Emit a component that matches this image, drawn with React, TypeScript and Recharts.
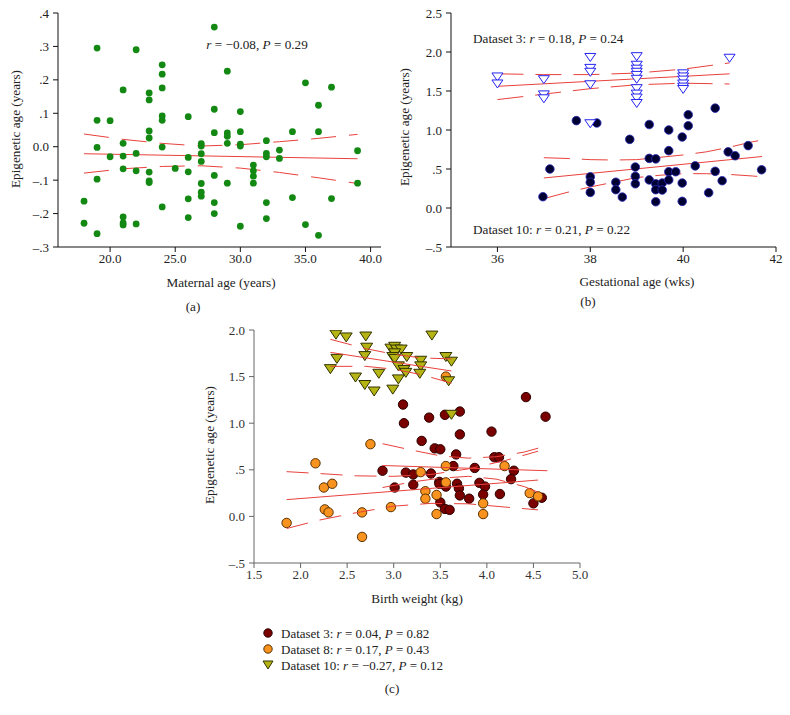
import React from "react";
import { ScatterChart, Scatter, XAxis, YAxis } from "recharts";

type Pt = [number, number];

const FONT = '"Liberation Serif", "DejaVu Serif", serif';
const RED = "#e8413c";

// (a) maternal age vs epigenetic age
const maternalAgePoints: Pt[] = [
  [18, -0.163], [18, -0.229],
  [19, 0.295], [19, 0.079], [19, -0.002], [19, -0.097], [19, -0.26],
  [20, 0.078], [20, -0.03],
  [21, 0.17], [21, 0.01], [21, -0.028], [21, -0.066], [21, -0.21], [21, -0.228], [21, -0.234],
  [22, 0.29], [22, -0.02], [22, -0.072], [22, -0.231],
  [23, 0.161], [23, 0.14], [23, 0.047], [23, 0.026], [23, -0.076], [23, -0.102], [23, -0.107],
  [24, 0.245], [24, 0.217], [24, 0.176], [24, 0.092], [24, 0.079], [24, -0.001], [24, -0.18],
  [25, -0.065],
  [26, 0.09], [26, -0.032], [26, -0.075], [26, -0.156], [26, -0.212],
  [27, 0.009], [27, 0.002], [27, -0.021], [27, -0.044], [27, -0.11], [27, -0.136], [27, -0.148],
  [28, 0.358], [28, 0.112], [28, 0.042], [28, -0.086], [28, -0.167], [28, -0.2],
  [29, 0.226], [29, 0.041], [29, 0.031], [29, 0.01], [29, -0.109],
  [30, 0.105], [30, 0.045], [30, 0.008], [30, 0.002], [30, -0.238],
  [31, -0.055], [31, -0.072], [31, -0.088], [31, -0.109],
  [32, 0.018], [32, -0.02], [32, -0.03], [32, -0.167], [32, -0.215],
  [33, -0.01], [33, -0.035],
  [34, 0.045], [34, -0.152],
  [35, 0.191], [35, -0.233],
  [36, 0.124], [36, 0.045], [36, -0.265],
  [37, 0.178], [37, -0.155],
  [39, -0.012], [39, -0.109],
];
const maternalFit: Pt[] = [[18, -0.021], [39, -0.036]];
const maternalUpper: Pt[] = [[18, 0.038], [21, 0.022], [24, 0.01], [27, 0.002], [30, 0.006], [33, 0.015], [36, 0.025], [39, 0.037]];
const maternalLower: Pt[] = [[18, -0.079], [21, -0.066], [24, -0.059], [27, -0.057], [30, -0.064], [33, -0.077], [36, -0.093], [39, -0.11]];

// (b) gestational age
const gestDataset3: Pt[] = [
  [36, 1.68], [36, 1.59], [37, 1.645], [37, 1.45], [37, 1.4],
  [38, 1.93], [38, 1.79], [38, 1.74], [38, 1.58], [38, 1.08],
  [39, 1.94], [39, 1.83], [39, 1.78], [39, 1.74], [39, 1.7], [39, 1.65], [39, 1.53], [39, 1.46], [39, 1.41], [39, 1.34],
  [40, 1.72], [40, 1.68], [40, 1.64], [40, 1.59], [40, 1.55], [40, 1.52],
  [41, 1.92],
];
const gestDataset10: Pt[] = [
  [36.98, 0.145], [37.13, 0.5], [37.7, 1.12], [38.14, 1.09], [38, 0.4], [38, 0.33], [38, 0.2],
  [38.55, 0.33], [38.55, 0.235], [38.69, 0.14], [38.85, 0.88], [38.97, 0.525], [38.97, 0.405], [38.97, 0.31],
  [39.27, 1.07], [39.27, 0.636], [39.27, 0.36], [39.41, 0.63], [39.41, 0.31], [39.41, 0.235], [39.41, 0.08],
  [39.55, 0.32], [39.55, 0.23], [39.69, 1.0], [39.69, 0.735], [39.69, 0.465], [39.69, 0.36], [39.84, 0.465],
  [39.98, 0.91], [39.98, 0.32], [39.98, 0.085], [40.11, 1.196], [40.11, 1.055], [40.26, 0.54], [40.55, 0.196],
  [40.69, 0.47], [40.69, 1.28], [40.84, 0.35], [40.97, 0.72], [41.12, 0.67], [41.4, 0.8], [41.69, 0.49],
];
const gest3Fit: Pt[] = [[36, 1.56], [41, 1.72]];
const gest3Upper: Pt[] = [[36, 1.72], [37, 1.71], [38, 1.71], [39, 1.73], [40, 1.78], [41, 1.86]];
const gest3Lower: Pt[] = [[36, 1.39], [37, 1.46], [38, 1.53], [39, 1.58], [40, 1.6], [41, 1.59]];
const gest10Fit: Pt[] = [[37, 0.385], [41.7, 0.66]];
const gest10Upper: Pt[] = [[37, 0.645], [37.5, 0.635], [38, 0.62], [38.5, 0.615], [39, 0.62], [39.5, 0.65], [40, 0.68], [40.5, 0.72], [41, 0.78], [41.5, 0.85], [41.7, 0.87]];
const gest10Lower: Pt[] = [[37, 0.12], [37.5, 0.2], [38, 0.27], [38.5, 0.33], [39, 0.39], [39.5, 0.42], [40, 0.44], [40.5, 0.44], [41, 0.43], [41.5, 0.41], [41.7, 0.4]];

// (c) birth weight
const bwDataset3: Pt[] = [
  [3.1, 1.2], [3.11, 1.0], [3.38, 1.06], [3.55, 1.09], [3.71, 1.125], [4.42, 1.28], [4.63, 1.07],
  [3.71, 0.88], [4.05, 0.91], [3.3, 0.81], [3.44, 0.73], [3.5, 0.72], [3.67, 0.665], [4.08, 0.635], [4.13, 0.635],
  [2.88, 0.49], [3.13, 0.47], [3.21, 0.45], [3.4, 0.46], [3.64, 0.54], [3.87, 0.52], [4.29, 0.49], [4.26, 0.4],
  [3.01, 0.31], [3.21, 0.34], [3.49, 0.37], [3.49, 0.35], [3.56, 0.32], [3.68, 0.35], [3.7, 0.3], [3.92, 0.36],
  [3.98, 0.32], [3.81, 0.19], [3.71, 0.225], [3.96, 0.235], [4.14, 0.24], [3.5, 0.15], [3.55, 0.08], [3.6, 0.07],
  [4.5, 0.14], [4.59, 0.2],
];
const bwDataset8: Pt[] = [
  [1.85, -0.07], [2.16, 0.57], [2.25, 0.31], [2.34, 0.35], [2.26, 0.075], [2.3, 0.043], [2.75, 0.775],
  [2.66, 0.043], [2.66, -0.22], [2.97, 0.1], [3.29, 0.475], [3.34, 0.27], [3.34, 0.19], [3.46, 0.23],
  [3.46, 0.025], [3.56, 0.54], [3.56, 0.365], [3.56, 1.5], [3.96, 0.14], [3.96, 0.025], [4.19, 0.54],
  [4.46, 0.25], [4.55, 0.215],
];
const bwDataset10: Pt[] = [
  [2.38, 1.95], [2.49, 1.92], [2.7, 1.93], [3.41, 1.94], [2.71, 1.81], [2.69, 1.72], [2.39, 1.69], [2.32, 1.58],
  [2.59, 1.49], [2.69, 1.41], [2.79, 1.34], [2.84, 1.53], [2.99, 1.36], [2.97, 1.8], [3.01, 1.82], [3.03, 1.79],
  [3.08, 1.79], [3.01, 1.75], [2.99, 1.71], [3.14, 1.71], [3.01, 1.69], [3.05, 1.61], [3.11, 1.57], [3.13, 1.54],
  [3.05, 1.47], [3.29, 1.67], [3.29, 1.61], [3.28, 1.53], [3.56, 1.71], [3.62, 1.66], [3.59, 1.45], [3.62, 1.09],
];
const bw3Fit: Pt[] = [[2.88, 0.546], [4.65, 0.49]];
const bw3Upper: Pt[] = [[2.88, 0.78], [3.2, 0.71], [3.5, 0.65], [3.8, 0.625], [4.1, 0.64], [4.4, 0.69], [4.65, 0.76]];
const bw3Lower: Pt[] = [[2.88, 0.31], [3.2, 0.37], [3.5, 0.41], [3.8, 0.43], [4.1, 0.4], [4.4, 0.32], [4.65, 0.22]];
const bw8Fit: Pt[] = [[1.85, 0.18], [4.55, 0.39]];
const bw8Upper: Pt[] = [[1.85, 0.48], [2.2, 0.46], [2.6, 0.435], [3.0, 0.43], [3.4, 0.45], [3.8, 0.51], [4.2, 0.6], [4.55, 0.7]];
const bw8Lower: Pt[] = [[1.85, -0.13], [2.2, -0.04], [2.6, 0.04], [3.0, 0.11], [3.4, 0.14], [3.8, 0.135], [4.2, 0.1], [4.55, 0.07]];
const bw10Fit: Pt[] = [[2.32, 1.76], [3.62, 1.56]];
const bw10Upper: Pt[] = [[2.32, 1.9], [2.7, 1.8], [3.0, 1.74], [3.3, 1.7], [3.62, 1.69]];
const bw10Lower: Pt[] = [[2.32, 1.61], [2.7, 1.61], [3.0, 1.58], [3.3, 1.52], [3.62, 1.43]];

const ticksA_X = [20, 25, 30, 35, 40];
const ticksA_Y = [-0.3, -0.2, -0.1, 0, 0.1, 0.2, 0.3, 0.4];
const ticksB_X = [36, 38, 40, 42];
const ticksB_Y = [-0.5, 0, 0.5, 1, 1.5, 2, 2.5];
const ticksC_X = [1.5, 2, 2.5, 3, 3.5, 4, 4.5, 5];
const ticksC_Y = [-0.5, 0, 0.5, 1, 1.5, 2];

const toXY = (pts: Pt[]) => pts.map(([x, y]) => ({ x, y }));

const fmtY = (v: number) => {
  if (Math.abs(v) < 1e-9) return "0.0";
  let s = v.toFixed(1);
  if (Math.abs(v) < 1) s = s.replace("0.", ".");
  return s.replace("-", "–");
};

const line = (key: string, pts: Pt[], dash?: string) => (
  <Scatter
    key={key}
    data={toXY(pts)}
    fill={RED}
    line={{ stroke: RED, strokeWidth: 1, strokeDasharray: dash }}
    lineType="joint"
    shape={() => <g />}
    isAnimationActive={false}
  />
);

const circle = (r: number, fill: string, stroke: string, sw = 0.8) => (p: any) =>
  <circle cx={p.cx} cy={p.cy} r={r} fill={fill} stroke={stroke} strokeWidth={sw} />;

const triangle = (w: number, h: number, fill: string, stroke: string) => (p: any) =>
  (
    <polygon
      points={`${p.cx - w / 2},${p.cy - h / 2} ${p.cx + w / 2},${p.cy - h / 2} ${p.cx},${p.cy + h / 2}`}
      fill={fill}
      stroke={stroke}
      strokeWidth={1}
    />
  );

const Txt = ({ x, y, children, rotate = false, left = false, size = 13.2 }: any) => (
  <div
    style={{
      position: "absolute",
      left: x,
      top: y,
      transform: `translate(${left ? "0" : "-50%"}, -50%)${rotate ? " rotate(-90deg)" : ""}`,
      whiteSpace: "nowrap",
      fontSize: size,
      fontFamily: FONT,
      color: "#222",
      lineHeight: 1,
    }}
  >
    {children}
  </div>
);

const tick = (c: string) => ({ fontFamily: FONT, fontSize: 13, fill: c });

const I = ({ children }: any) => <i>{children}</i>;

const App = () => {
  const axA = { stroke: "#111" };
  const axC = { stroke: "#666" };
  return (
    <div style={{ position: "absolute", left: 0, top: 0, width: 790, height: 715, background: "#fff" }}>
      {/* (a) */}
      <div style={{ position: "absolute", left: 0, top: 0 }}>
        <ScatterChart width={400} height={290} margin={{ top: 13, right: 19, left: 0, bottom: 0 }}>
          <XAxis type="number" dataKey="x" domain={[16, 40.8]} ticks={ticksA_X} tickFormatter={(v) => v.toFixed(1)}
            height={43} tick={tick("#222")} axisLine={axA} tickLine={axA} tickSize={5} allowDataOverflow />
          <YAxis type="number" dataKey="y" domain={[-0.3, 0.4]} ticks={ticksA_Y} tickFormatter={fmtY}
            width={58} tick={tick("#222")} axisLine={axA} tickLine={axA} tickSize={5} tickMargin={4} allowDataOverflow />
          {line("aU", maternalUpper, "25 13")}
          {line("aL", maternalLower, "25 13")}
          {line("aF", maternalFit)}
          <Scatter data={toXY(maternalAgePoints)} shape={circle(3.4, "#138913", "#138913", 0)} isAnimationActive={false} />
        </ScatterChart>
      </div>
      <Txt x={257} y={45}><I>r</I> = −0.08, <I>P</I> = 0.29</Txt>
      <Txt x={221} y={283}>Maternal age (years)</Txt>
      <Txt x={16} y={129} rotate>Epigenetic age (years)</Txt>
      <Txt x={193} y={307}>(a)</Txt>

      {/* (b) */}
      <div style={{ position: "absolute", left: 390, top: 0 }}>
        <ScatterChart width={400} height={290} margin={{ top: 13, right: 14, left: 0, bottom: 0 }}>
          <XAxis type="number" dataKey="x" domain={[35, 42]} ticks={ticksB_X}
            height={43} tick={tick("#222")} axisLine={axA} tickLine={axA} tickSize={5} allowDataOverflow />
          <YAxis type="number" dataKey="y" domain={[-0.5, 2.5]} ticks={ticksB_Y} tickFormatter={fmtY}
            width={61} tick={tick("#222")} axisLine={axA} tickLine={axA} tickSize={5} tickMargin={4} allowDataOverflow />
          {line("b3U", gest3Upper, "26 12")}
          {line("b3L", gest3Lower, "26 12")}
          {line("b3F", gest3Fit)}
          {line("b10U", gest10Upper, "26 12")}
          {line("b10L", gest10Lower, "26 12")}
          {line("b10F", gest10Fit)}
          <Scatter data={toXY(gestDataset10)} shape={circle(4.3, "#000033", "#2a2ab8", 0.8)} isAnimationActive={false} />
          <Scatter data={toXY(gestDataset3)} shape={triangle(11, 8, "#ffffff", "#2323f0")} isAnimationActive={false} />
        </ScatterChart>
      </div>
      <Txt x={473} y={39} left>Dataset 3: <I>r</I> = 0.18, <I>P</I> = 0.24</Txt>
      <Txt x={473} y={230} left>Dataset 10: <I>r</I> = 0.21, <I>P</I> = 0.22</Txt>
      <Txt x={637} y={282}>Gestational age (wks)</Txt>
      <Txt x={405} y={127} rotate>Epigenetic age (years)</Txt>
      <Txt x={588} y={302}>(b)</Txt>

      {/* (c) */}
      <div style={{ position: "absolute", left: 190, top: 320 }}>
        <ScatterChart width={410} height={283} margin={{ top: 10, right: 20, left: 0, bottom: 0 }}>
          <XAxis type="number" dataKey="x" domain={[1.5, 5]} ticks={ticksC_X} tickFormatter={(v) => v.toFixed(1)}
            height={40} tick={tick("#333")} axisLine={axC} tickLine={axC} tickSize={5} allowDataOverflow />
          <YAxis type="number" dataKey="y" domain={[-0.5, 2]} ticks={ticksC_Y} tickFormatter={fmtY}
            width={64} tick={tick("#333")} axisLine={axC} tickLine={axC} tickSize={5} tickMargin={4} allowDataOverflow />
          <Scatter data={toXY(bwDataset3)} shape={circle(4.7, "#7a0000", "#2a0000", 1)} isAnimationActive={false} />
          <Scatter data={toXY(bwDataset8)} shape={circle(4.7, "#f7931e", "#5a3000", 1)} isAnimationActive={false} />
          <Scatter data={toXY(bwDataset10)} shape={triangle(12, 9, "#b4b414", "#333300")} isAnimationActive={false} />
          {line("c3U", bw3Upper, "22 12")}
          {line("c3L", bw3Lower, "22 12")}
          {line("c3F", bw3Fit)}
          {line("c8U", bw8Upper, "22 12")}
          {line("c8L", bw8Lower, "22 12")}
          {line("c8F", bw8Fit)}
          {line("c10U", bw10Upper, "22 12")}
          {line("c10L", bw10Lower, "22 12")}
          {line("c10F", bw10Fit)}
        </ScatterChart>
      </div>
      <Txt x={417} y={599}>Birth weight (kg)</Txt>
      <Txt x={210} y={445} rotate>Epigenetic age (years)</Txt>

      {/* legend (c) */}
      {[
        { y: 633, m: <circle cx={7} cy={7} r={4.2} fill="#7a0000" stroke="#2a0000" />, t: <>Dataset 3: <I>r</I> = 0.04, <I>P</I> = 0.82</> },
        { y: 649, m: <circle cx={7} cy={7} r={4.2} fill="#f7931e" stroke="#5a3000" />, t: <>Dataset 8: <I>r</I> = 0.17, <I>P</I> = 0.43</> },
        { y: 665, m: <polygon points="2,3 12,3 7,11" fill="#b4b414" stroke="#333300" />, t: <>Dataset 10: <I>r</I> = −0.27, <I>P</I> = 0.12</> },
      ].map((row, i) => (
        <React.Fragment key={i}>
          <svg width={14} height={14} style={{ position: "absolute", left: 261, top: row.y - 7 }}>{row.m}</svg>
          <Txt x={281} y={row.y} left size={13}>{row.t}</Txt>
        </React.Fragment>
      ))}
      <Txt x={392} y={689}>(c)</Txt>
    </div>
  );
};

export default App;
